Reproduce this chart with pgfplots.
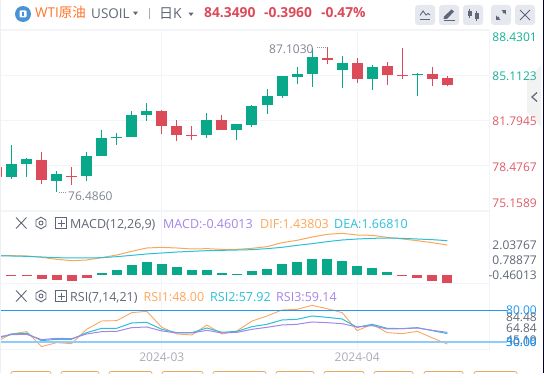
\documentclass[border=0pt]{standalone}
\usepackage{fontspec}
\setmainfont{Open Sans}
\newfontfamily\cjk{Noto Sans CJK SC}
\usepackage{pgfplots}
\usepackage{pgfplotstable}
\pgfplotsset{compat=1.18}
\definecolor{cgreen}{HTML}{0AA88A}
\definecolor{cred}{HTML}{DC4B5A}
\definecolor{lgreen}{HTML}{16B195}
\definecolor{lred}{HTML}{E05A68}
\definecolor{cgrid}{HTML}{F3F4F7}
\definecolor{ctext}{HTML}{5F6675}
\definecolor{cdate}{HTML}{A9ACB6}
\definecolor{corange}{HTML}{FBA75B}
\definecolor{ccyan}{HTML}{2BBFD8}
\definecolor{cpurple}{HTML}{A585E6}
\definecolor{cblue}{HTML}{2196F3}
\definecolor{clblue}{HTML}{8FCBFB}
\definecolor{cbtn}{HTML}{E6E8F0}
\definecolor{cicon}{HTML}{5F6675}
% candles: index, body top, body bottom, high, low
\pgfplotstableread{
i top bot high low
0 78.58 77.62 79.98 77.47
1 78.94 78.58 79.02 77.62
3 77.84 77.32 78.06 76.49
5 79.17 77.69 79.46 77.32
6 80.49 79.17 81.08 79.17
7 80.57 80.52 80.86 79.98
8 82.19 80.57 82.48 80.57
9 82.48 82.19 83.07 81.75
13 81.82 80.71 82.34 80.49
15 81.52 81.08 81.52 80.34
16 82.85 81.45 82.93 81.30
17 83.59 82.93 84.10 82.26
18 85.06 83.59 85.06 83.44
19 85.21 84.99 85.72 84.47
20 86.46 85.21 87.10 84.25
22 86.02 85.50 86.54 84.18
24 85.72 84.84 85.87 84.03
27 85.21 85.16 85.28 83.59
}\greencandles
\pgfplotstableread{
i top bot high low
-1 78.38 77.64 78.50 77.40
2 78.87 77.40 79.46 77.10
4 77.69 77.62 78.33 77.03
10 82.48 81.38 82.56 80.79
11 81.38 80.71 81.82 80.27
12 80.71 80.64 81.38 80.34
14 81.82 81.08 82.19 81.08
21 86.39 86.27 87.20 85.95
23 86.02 84.84 86.39 84.55
25 85.80 85.13 86.09 84.40
26 85.13 85.06 87.13 84.84
28 85.21 84.84 85.72 84.32
29 84.91 84.40 85.06 84.32
}\redcandles
% MACD histogram: index, base, end
\pgfplotstableread{
i base top
6 -0.42 -0.26
7 -0.42 -0.01
8 -0.42 0.395
9 -0.42 0.639
10 -0.42 0.476
11 -0.42 0.232
12 -0.42 -0.01
13 -0.42 -0.01
14 -0.42 -0.26
15 -0.42 -0.338
16 -0.42 -0.094
17 -0.42 0.069
18 -0.42 0.476
19 -0.42 0.639
20 -0.42 0.884
21 -0.42 0.884
22 -0.42 0.721
23 -0.42 0.314
24 -0.42 0.151
25 -0.42 -0.175
}\greenhist
\pgfplotstableread{
i base top
0 -0.474 -0.42
1 -0.474 -0.42
2 -0.745 -0.42
3 -0.826 -0.42
4 -0.908 -0.42
5 -0.664 -0.42
26 -0.501 -0.42
27 -0.664 -0.42
28 -0.908 -0.42
29 -1.044 -0.42
}\redhist
\pgfplotstableread{
i dif dea
-1 1.155 1.155
0 1.155 1.128
1 1.128 1.101
2 1.019 1.046
3 0.856 0.992
4 0.748 0.965
5 0.802 0.965
6 0.992 0.992
7 1.209 1.073
8 1.508 1.182
9 1.779 1.291
10 1.834 1.372
11 1.779 1.453
12 1.698 1.508
13 1.725 1.562
14 1.671 1.589
15 1.671 1.616
16 1.752 1.644
17 1.888 1.725
18 2.213 1.834
19 2.403 1.996
20 2.675 2.132
21 2.892 2.295
22 2.974 2.431
23 2.838 2.512
24 2.811 2.566
25 2.648 2.594
26 2.512 2.566
27 2.376 2.512
28 2.213 2.458
29 2.024 2.376
}\macdlines
\pgfplotstableread{
i r a b
-0.765 51.90 54.13 55.08
0 57.62 57.62 56.98
1 59.84 58.25 57.30
2 45.56 51.27 52.22
3 49.37 52.54 53.49
4 48.41 52.54 53.17
5 62.06 58.89 57.62
6 70.00 63.02 59.84
7 70.32 63.02 60.16
8 77.94 68.10 63.65
9 79.21 68.73 64.29
10 63.97 62.06 60.48
11 57.62 58.89 58.57
12 56.67 58.89 58.57
13 66.19 63.33 61.11
14 57.62 59.21 58.57
15 60.48 60.16 59.21
16 70.00 64.60 62.06
17 74.76 66.83 63.97
18 80.48 70.95 66.19
19 81.11 71.59 66.83
20 84.92 74.76 69.05
21 81.75 73.49 68.41
22 77.94 71.90 67.46
23 60.79 63.97 64.29
24 66.83 66.83 65.56
25 58.89 63.02 62.38
26 57.94 62.70 62.70
27 60.16 63.65 63.33
28 53.90 60.79 61.11
29 48.00 57.92 59.14
}\rsilines
\newcommand{\fs}[1]{\fontsize{#1}{#1}\selectfont}
% tick label shifted by #1 (pt, up) from its tick, zero-sized so the node stays on the tick
\newcommand{\TL}[3]{\textcolor{#2}{\raisebox{\dimexpr #1pt-4.3pt\relax}[0pt][0pt]{#3}}}
\pgfplotsset{panel/.style={
  scale only axis, width=489pt, xmin=-0.765, xmax=31.77,
  xtick={10,23}, xmajorgrids, grid style={cgrid, line width=0.9pt},
  axis line style={cgrid, line width=0.9pt}, tick style={draw=none}, major tick length=0pt,
  yticklabel pos=right,
  yticklabel style={font=\fs{12}, anchor=east, inner sep=0pt, xshift=48pt},
  xticklabel style={font=\fs{12}, text=cdate},
  clip marker paths=false}}
\newcommand{\cand}[2]{%
  \addplot[draw=none,mark=none,forget plot,error bars/.cd,y dir=plus,y explicit,error mark=none,
    error bar style={draw=#2,line width=1pt}]
    table[x=i,y=low,y error plus expr=\thisrow{high}-\thisrow{low}]{#1};
  \addplot[draw=none,mark=none,forget plot,error bars/.cd,y dir=plus,y explicit,error mark=none,
    error bar style={draw=#2,line width=11pt}]
    table[x=i,y=bot,y error plus expr=\thisrow{top}-\thisrow{bot}]{#1};}
\newcommand{\T}[5]{\node[anchor=base #4,inner sep=0pt,text=#3] at (#1,#2) {#5};}
\newcommand{\hdr}[1]{%
  \draw[cicon,line width=0.9pt] (16,#1-5.5)--(26.5,#1+5.5) (26.5,#1-5.5)--(16,#1+5.5);
  \draw[cicon,line width=0.9pt] (41,#1-5.8)--(46,#1-2.9)--(46,#1+2.9)--(41,#1+5.8)--(36,#1+2.9)--(36,#1-2.9)--cycle;
  \draw[cicon,line width=0.9pt] (41,#1) circle (2);
  \draw[cicon,line width=0.9pt] (55.5,#1-5.5) rectangle (66.5,#1+5.5) (57.5,#1)--(64.5,#1) (61,#1-3.5)--(61,#1+3.5);}
\newcommand{\btn}[1]{\fill[cbtn,rounded corners=3pt] (#1,5) rectangle (#1+20,25);}
\begin{document}
\begin{tikzpicture}[x=1pt,y=1pt]
\path[use as bounding box] (0,0) rectangle (544,373);
% collapse tab, behind the tick labels
\begin{scope}[x=1pt,y=-1pt,yshift=373pt]
\fill[black!5!white] (541,65)--(541,127)--(527,112)--(527,80)--cycle;
\draw[cicon,line width=1.2pt] (537,92.5)--(532,97)--(537,101.5);
\end{scope}
% MAIN PANEL
\begin{axis}[panel, at={(0pt,162.7pt)}, anchor=south west, height=180pt,
  ymin=75.1589, ymax=88.4301, ymajorgrids,
  xticklabels={,},
  ytick={75.1589,78.4767,81.7945,85.1123,88.4301},
  yticklabels={\TL{7.3}{lred}{75.1589},\TL{-2.4}{lred}{78.4767},\TL{-0.7}{lred}{81.7945},\TL{-1.4}{lgreen}{85.1123},\TL{-7}{lgreen}{88.4301}}]
\cand{\greencandles}{cgreen}
\cand{\redcandles}{cred}
\end{axis}
% MACD PANEL
\begin{axis}[panel, at={(0pt,90pt)}, anchor=south west, height=72pt,
  ymin=-1.071, ymax=4.792, xticklabels={,},
  ytick={-0.46013,0.78877,2.03767},
  yticklabels={\TL{0}{ctext}{-0.46013},\TL{0}{ctext}{0.78877},\TL{0}{ctext}{2.03767}}]
\addplot[draw=none,mark=none,forget plot,error bars/.cd,y dir=plus,y explicit,error mark=none,
  error bar style={draw=cgreen,line width=10pt}]
  table[x=i,y=base,y error plus expr=\thisrow{top}-\thisrow{base}]{\greenhist};
\addplot[draw=none,mark=none,forget plot,error bars/.cd,y dir=plus,y explicit,error mark=none,
  error bar style={draw=cred,line width=10pt}]
  table[x=i,y=base,y error plus expr=\thisrow{top}-\thisrow{base}]{\redhist};
\addplot[corange,line width=1pt,forget plot] table[x=i,y=dif]{\macdlines};
\addplot[ccyan,line width=1pt,forget plot] table[x=i,y=dea]{\macdlines};
\end{axis}
% RSI PANEL
\begin{axis}[panel, at={(0pt,24pt)}, anchor=south west, height=66pt,
  ymin=43.3, ymax=106.2, clip=false,
  xticklabels={2024-03,2024-04},
  ytick={84.48,80,64.84,45.19,50},
  yticklabels={\TL{-11.2}{ctext}{84.48},\TL{0}{cblue}{80.00},\TL{-2}{ctext}{64.84},\TL{7}{ctext}{45.19},\TL{0}{cblue}{\rlap{\raisebox{-.5pt}{30.00}}50.00}}]
\addplot[corange,line width=0.9pt,forget plot] table[x=i,y=r]{\rsilines};
\addplot[ccyan,line width=1pt,forget plot] table[x=i,y=a]{\rsilines};
\addplot[cpurple,line width=1pt,forget plot] table[x=i,y=b]{\rsilines};
\addplot[cblue,line width=1pt,forget plot] coordinates {(-0.765,80)(32.97,80)};
\addplot[clblue,line width=2.4pt,forget plot] coordinates {(-0.765,50)(32.97,50)};
\end{axis}
% OVERLAY: text and chrome, y measured from the top
\begin{scope}[x=1pt,y=-1pt,yshift=373pt]
\fill[cbtn!70!white] (0,0) rectangle (1.4,373);
\fill[black!80!blue] (542.6,0) rectangle (544,373);
\draw[cgrid,line width=0.9pt] (1.4,29.5)--(489,29.5);
% coin icon
\fill[cyan!60!blue!75!white] (23,14) circle (8);
\fill[white,rounded corners=1pt] (19.5,10.5) rectangle (26.5,17.5);
\fill[cyan!60!blue!75!white] (21.7,12) rectangle (24.3,16);
\T{35}{17.6}{orange!70!red!85!white}{west}{\fs{13.5}WTI{\cjk 原油}}
\T{91}{18.6}{ctext}{west}{\fs{13.5}USOIL}
\fill[ctext] (133,11.6)--(138,11.6)--(135.5,15)--cycle;
\draw[cgrid!70!black,line width=0.7pt] (149,8)--(149,19);
\T{159}{18.2}{ctext}{west}{\fs{14}{\cjk 日}K}
\fill[ctext] (188.5,12.6)--(193.5,12.6)--(191,16)--cycle;
\T{204}{17.6}{cred}{west}{\fs{13.8}\bfseries 84.3490}
\T{264}{17.6}{cred}{west}{\fs{13.8}\bfseries -0.3960}
\T{321}{17.6}{cred}{west}{\fs{13.8}\bfseries -0.47\%}
% buttons
\btn{415}\btn{439}\btn{463}\btn{491}\btn{515}
\draw[cicon,line width=0.9pt] (420,19.5)--(430,19.5);
\draw[cicon,line width=0.9pt] (420,15.5)--(423,11)--(426,15)--(428,13.5)--(430,15);
\fill[cicon] (443.5,19)--(447,19)--(454,11.5)--(451.5,9.5)--(444,16.5)--cycle;
\draw[cicon,line width=0.9pt] (443.5,20.5)--(454.5,20.5);
\draw[cicon,line width=0.8pt] (469.5,9)--(469.5,18) (476.5,11)--(476.5,21);
\fill[cicon] (467.5,11) rectangle (471.5,16.5);
\fill[cicon] (474.5,13) rectangle (478.5,19);
\draw[cicon,line width=1pt] (496.5,19.5)--(505.5,10.5);
\fill[cbtn] (499,13.5) rectangle (503,17);
\fill[cicon] (505.8,10.2)--(501.5,10.2)--(505.8,14.5)--cycle;
\fill[cicon] (496.2,19.8)--(500.5,19.8)--(496.2,15.5)--cycle;
\draw[cicon,line width=1pt] (520,10)--(530,20) (530,10)--(520,20);
% extreme labels
\T{68}{200}{ctext!80!white}{west}{\fs{12}76.4860}
\draw[ctext!70!white,line width=0.8pt,dash pattern=on 1pt off 1pt] (59,192.5)--(66,192.5);
\T{269}{54}{ctext!80!white}{west}{\fs{12}87.1030}
\draw[ctext!70!white,line width=0.8pt,dash pattern=on 1pt off 1pt] (317,47)--(327,47);
% sub-panel headers
\hdr{223}\hdr{296}
\T{70}{228}{ctext}{west}{\fs{12.5}MACD(12,26,9)}
\T{163}{228}{cpurple}{west}{\fs{12.5}MACD:-0.46013}
\T{260}{228}{corange}{west}{\fs{12.5}DIF:1.43803}
\T{334}{228}{ccyan}{west}{\fs{12.5}DEA:1.66810}
\T{70}{301}{ctext}{west}{\fs{12.5}RSI(7,14,21)}
\T{143.5}{301}{corange}{west}{\fs{12.5}RSI1:48.00}
\T{210}{301}{ccyan}{west}{\fs{12.5}RSI2:57.92}
\T{276}{301}{cpurple}{west}{\fs{12.5}RSI3:59.14}
% bottom buttons peeking in
\foreach \a/\b in {11/51,61/99,109/152,162/203,213/266,276/314,324/364,374/413,424/463,474/517}
  \draw[orange!50!brown!70!white,line width=0.7pt,rounded corners=2pt] (\a,376)--(\a,371.5)--(\b,371.5)--(\b,376);
\end{scope}
\end{tikzpicture}
\end{document}
